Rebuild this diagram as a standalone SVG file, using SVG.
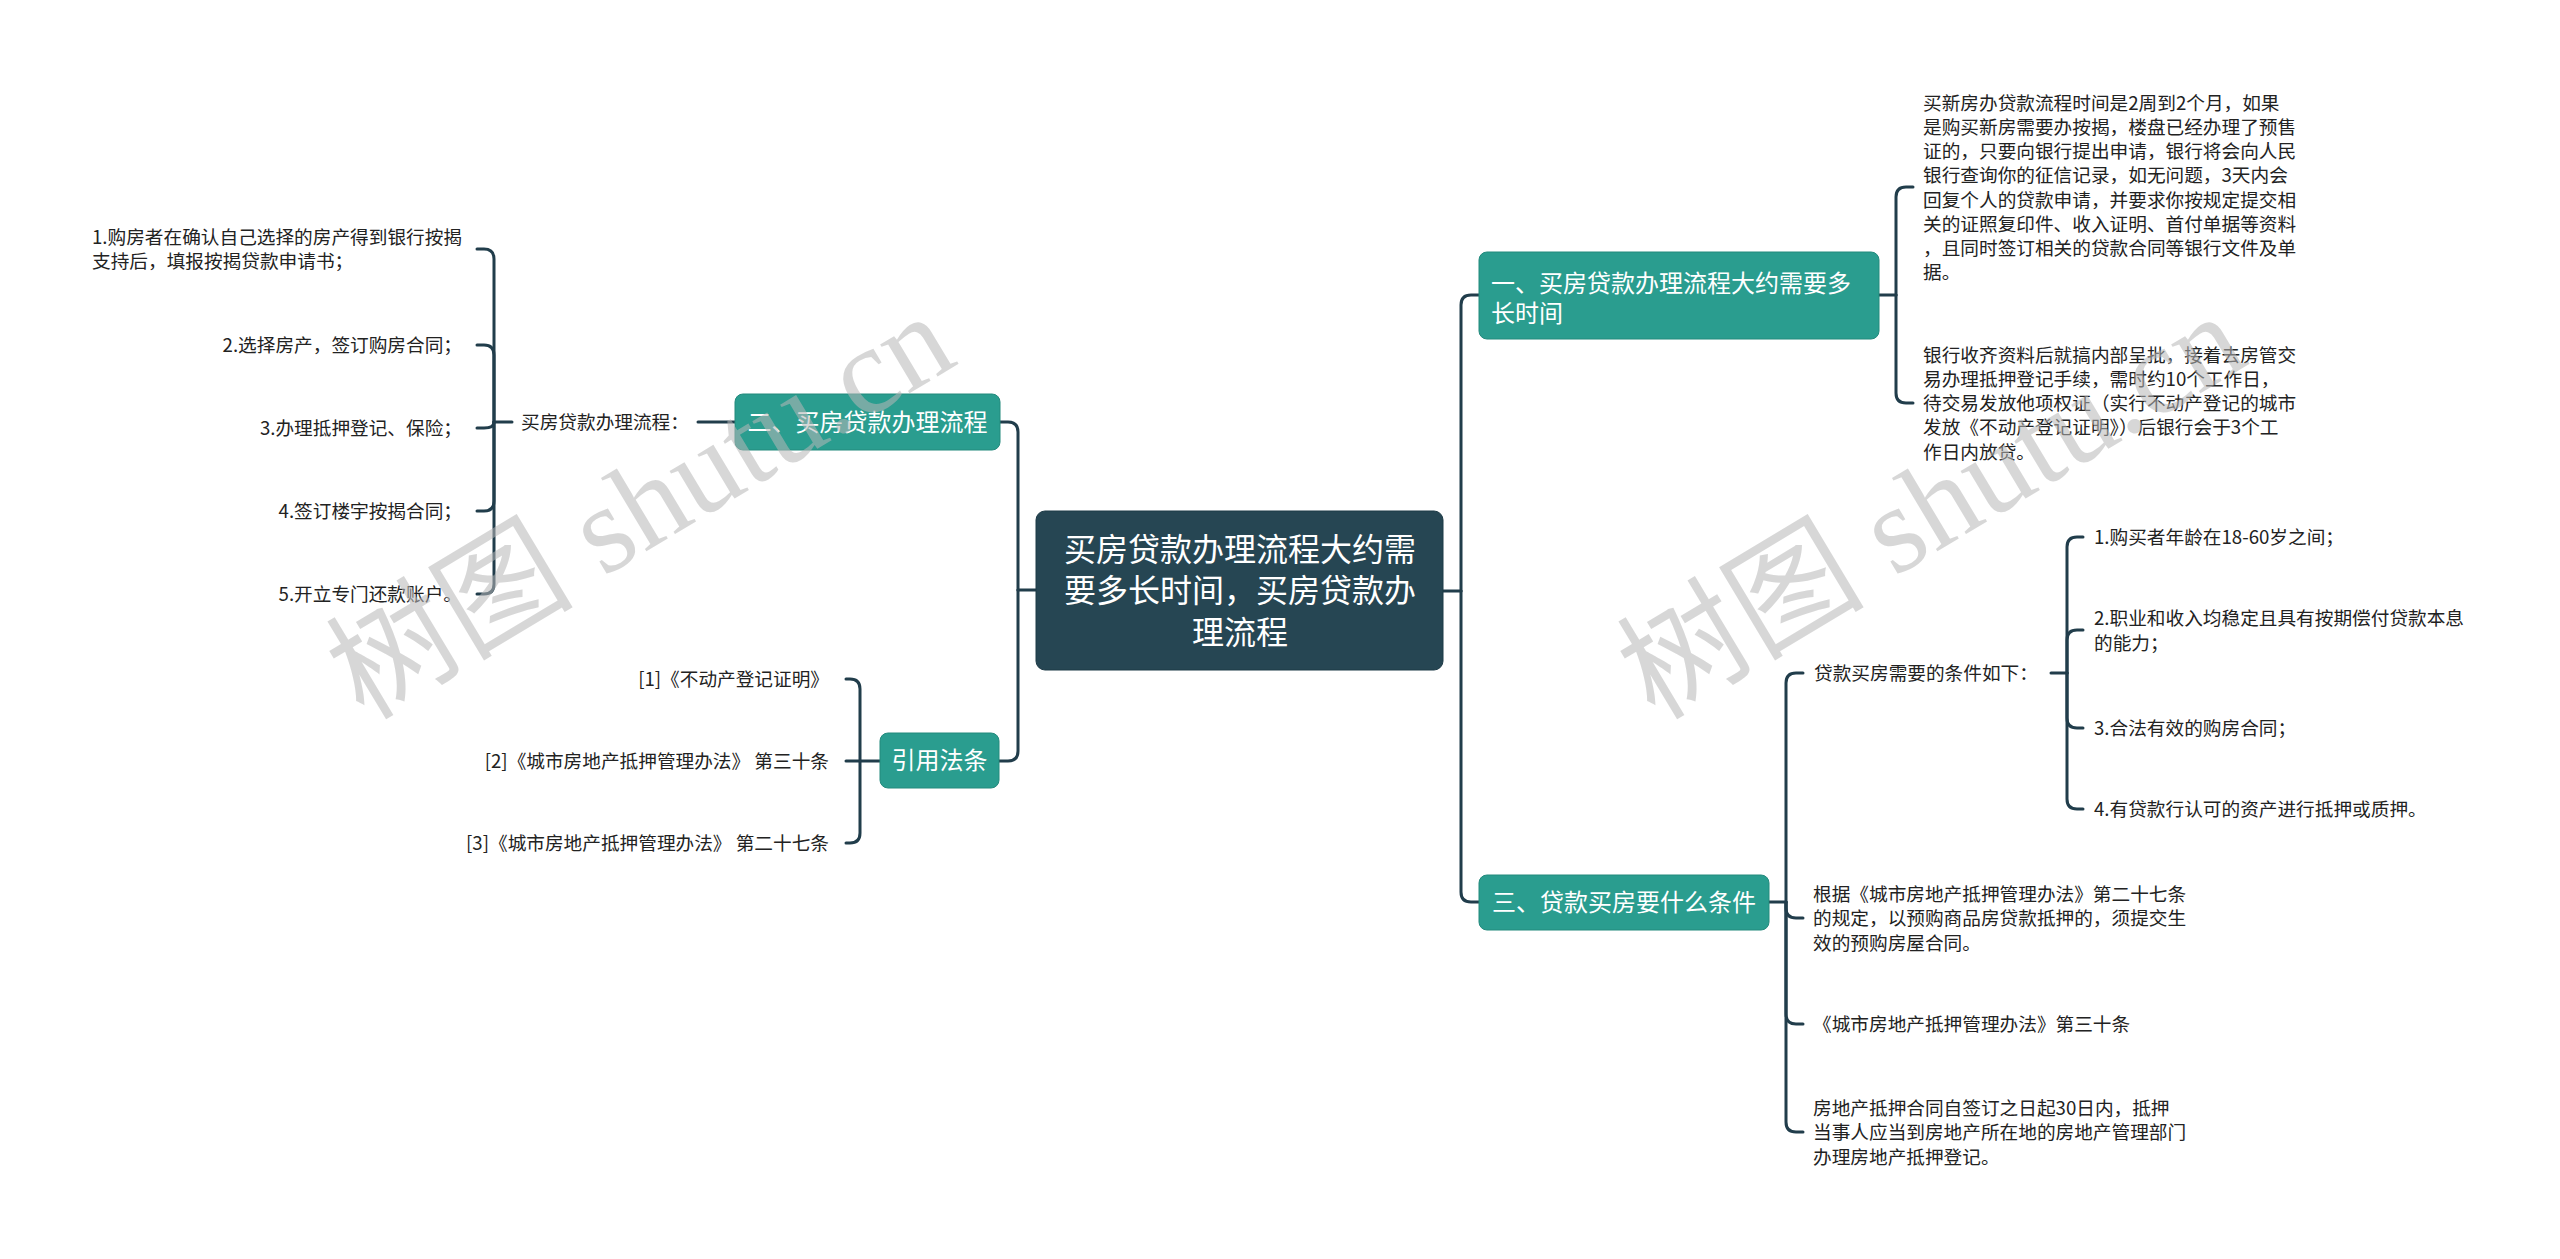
<svg xmlns="http://www.w3.org/2000/svg" width="2560" height="1259" viewBox="0 0 2560 1259">
<style>
.bg{fill:#ffffff}
.ln{fill:none;stroke:#213d4b;stroke-width:3;stroke-linecap:round;stroke-linejoin:round}
.root{fill:#264653;stroke:#1d3a46;stroke-width:1}
.sub{fill:#2a9d8f;stroke:#238a7d;stroke-width:1}
.rt{font-family:"Noto Sans CJK SC","Noto Sans",sans-serif;font-size:32px;fill:#ffffff;text-anchor:middle}
.st{font-family:"Noto Sans CJK SC","Noto Sans",sans-serif;font-size:24px;fill:#ffffff}
.lt{font-family:"Noto Sans CJK SC","Noto Sans",sans-serif;font-size:18.67px;fill:#222222}
.end{text-anchor:end}
.mid{text-anchor:middle}
.wm{font-family:"Liberation Serif","Noto Sans CJK SC",serif;font-size:124px;fill:#b8b8b8;opacity:0.55;text-anchor:middle}
</style>
<rect class="bg" x="0" y="0" width="2560" height="1259"/>

<g id="connectors">
  <path class="ln" d="M1036,590 H1018"/>
  <path class="ln" d="M1018,590 V432 Q1018,422 1008,422 H1000"/>
  <path class="ln" d="M1018,590 V751 Q1018,761 1008,761 H999"/>
  <path class="ln" d="M735,422 H698"/>
  <path class="ln" d="M512,422 H494"/>
  <path class="ln" d="M494,422 V259 Q494,249 484,249 H477"/>
  <path class="ln" d="M494,422 V355 Q494,345 484,345 H477"/>
  <path class="ln" d="M494,422 Q494,428 484,428 H477"/>
  <path class="ln" d="M494,422 V501 Q494,511 484,511 H477"/>
  <path class="ln" d="M494,422 V584 Q494,594 484,594 H477"/>
  <path class="ln" d="M880,761 H846"/>
  <path class="ln" d="M860,761 V689 Q860,679 850,679 H846"/>
  <path class="ln" d="M860,761 V833 Q860,843 850,843 H846"/>
  <path class="ln" d="M1443,591 H1461"/>
  <path class="ln" d="M1461,591 V305 Q1461,295 1471,295 H1479"/>
  <path class="ln" d="M1461,591 V892 Q1461,902 1471,902 H1479"/>
  <path class="ln" d="M1879,295 H1896"/>
  <path class="ln" d="M1896,295 V197 Q1896,187 1906,187 H1913"/>
  <path class="ln" d="M1896,295 V393 Q1896,403 1906,403 H1913"/>
  <path class="ln" d="M1769,902 H1786"/>
  <path class="ln" d="M1786,902 V683 Q1786,673 1796,673 H1803"/>
  <path class="ln" d="M1786,902 V908 Q1786,918 1796,918 H1803"/>
  <path class="ln" d="M1786,902 V1014 Q1786,1024 1796,1024 H1803"/>
  <path class="ln" d="M1786,902 V1122 Q1786,1132 1796,1132 H1803"/>
  <path class="ln" d="M2051,673 H2067"/>
  <path class="ln" d="M2067,673 V547 Q2067,537 2077,537 H2083"/>
  <path class="ln" d="M2067,673 V640 Q2067,630 2077,630 H2083"/>
  <path class="ln" d="M2067,673 V718 Q2067,728 2077,728 H2083"/>
  <path class="ln" d="M2067,673 V799 Q2067,809 2077,809 H2083"/>
</g>

<g id="root">
  <rect class="root" x="1036" y="511" width="407" height="159" rx="9"/>
  <text class="rt" x="1240" y="561">买房贷款办理流程大约需</text>
  <text class="rt" x="1240" y="602">要多长时间，买房贷款办</text>
  <text class="rt" x="1240" y="644">理流程</text>
</g>

<g id="node-er">
  <rect class="sub" x="735" y="394" width="265" height="56" rx="8"/>
  <text class="st mid" x="867.5" y="431">二、买房贷款办理流程</text>
</g>
<g id="node-er-label">
  <text class="lt" x="521" y="429">买房贷款办理流程：</text>
</g>
<g id="node-er-1">
  <text class="lt" x="92" y="244">1.购房者在确认自己选择的房产得到银行按揭</text>
  <text class="lt" x="92" y="268">支持后，填报按揭贷款申请书；</text>
</g>
<g id="node-er-2"><text class="lt end" x="462" y="352">2.选择房产，签订购房合同；</text></g>
<g id="node-er-3"><text class="lt end" x="462" y="435">3.办理抵押登记、保险；</text></g>
<g id="node-er-4"><text class="lt end" x="462" y="518">4.签订楼宇按揭合同；</text></g>
<g id="node-er-5"><text class="lt end" x="462" y="601">5.开立专门还款账户。</text></g>

<g id="node-law">
  <rect class="sub" x="880" y="733" width="119" height="55" rx="8"/>
  <text class="st mid" x="939.5" y="769">引用法条</text>
</g>
<g id="node-law-1"><text class="lt end" x="829" y="686">[1]《不动产登记证明》</text></g>
<g id="node-law-2"><text class="lt end" x="829" y="768">[2]《城市房地产抵押管理办法》 第三十条</text></g>
<g id="node-law-3"><text class="lt end" x="829" y="850">[3]《城市房地产抵押管理办法》 第二十七条</text></g>

<g id="node-yi">
  <rect class="sub" x="1479" y="252" width="400" height="87" rx="8"/>
  <text class="st" x="1491" y="291.5">一、买房贷款办理流程大约需要多</text>
  <text class="st" x="1491" y="321.5">长时间</text>
</g>
<g id="node-yi-1">
  <text class="lt" x="1923" y="109.5">买新房办贷款流程时间是2周到2个月，如果</text>
  <text class="lt" x="1923" y="133.8">是购买新房需要办按揭，楼盘已经办理了预售</text>
  <text class="lt" x="1923" y="158">证的，只要向银行提出申请，银行将会向人民</text>
  <text class="lt" x="1923" y="182.3">银行查询你的征信记录，如无问题，3天内会</text>
  <text class="lt" x="1923" y="206.6">回复个人的贷款申请，并要求你按规定提交相</text>
  <text class="lt" x="1923" y="230.9">关的证照复印件、收入证明、首付单据等资料</text>
  <text class="lt" x="1923" y="255.1">，且同时签订相关的贷款合同等银行文件及单</text>
  <text class="lt" x="1923" y="279.4">据。</text>
</g>
<g id="node-yi-2">
  <text class="lt" x="1923" y="361.5">银行收齐资料后就搞内部呈批，接着去房管交</text>
  <text class="lt" x="1923" y="385.8">易办理抵押登记手续，需时约10个工作日，</text>
  <text class="lt" x="1923" y="410">待交易发放他项权证（实行不动产登记的城市</text>
  <text class="lt" x="1923" y="434.3">发放《不动产登记证明》）后银行会于3个工</text>
  <text class="lt" x="1923" y="458.5">作日内放贷。</text>
</g>

<g id="node-san">
  <rect class="sub" x="1479" y="875" width="290" height="55" rx="8"/>
  <text class="st mid" x="1624" y="911">三、贷款买房要什么条件</text>
</g>
<g id="node-san-1"><text class="lt" x="1814" y="680">贷款买房需要的条件如下：</text></g>
<g id="node-san-1-1"><text class="lt" x="2094" y="544">1.购买者年龄在18-60岁之间；</text></g>
<g id="node-san-1-2">
  <text class="lt" x="2094" y="625.4">2.职业和收入均稳定且具有按期偿付贷款本息</text>
  <text class="lt" x="2094" y="649.7">的能力；</text>
</g>
<g id="node-san-1-3"><text class="lt" x="2094" y="735">3.合法有效的购房合同；</text></g>
<g id="node-san-1-4"><text class="lt" x="2094" y="816">4.有贷款行认可的资产进行抵押或质押。</text></g>
<g id="node-san-2">
  <text class="lt" x="1813" y="901">根据《城市房地产抵押管理办法》第二十七条</text>
  <text class="lt" x="1813" y="925.3">的规定，以预购商品房贷款抵押的，须提交生</text>
  <text class="lt" x="1813" y="949.6">效的预购房屋合同。</text>
</g>
<g id="node-san-3"><text class="lt" x="1813" y="1031">《城市房地产抵押管理办法》第三十条</text></g>
<g id="node-san-4">
  <text class="lt" x="1813" y="1115">房地产抵押合同自签订之日起30日内，抵押</text>
  <text class="lt" x="1813" y="1139.3">当事人应当到房地产所在地的房地产管理部门</text>
  <text class="lt" x="1813" y="1163.6">办理房地产抵押登记。</text>
</g>

<g id="watermarks">
  <text class="wm" transform="translate(662,542) rotate(-31)">树图 shutu.cn</text>
  <text class="wm" transform="translate(1953,542) rotate(-31)">树图 shutu.cn</text>
</g>
</svg>
